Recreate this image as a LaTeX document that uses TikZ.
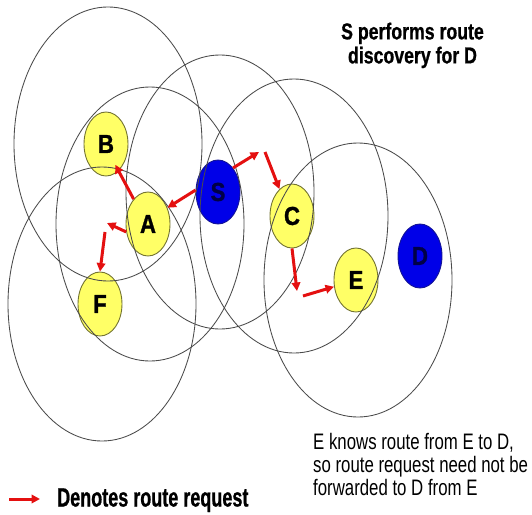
\documentclass[tikz,border=0pt]{standalone}
\usepackage{fontspec}
\setmainfont{Liberation Sans}
\newfontfamily\titlefont[FakeStretch=0.77,FakeBold=0.8]{Liberation Sans}
\newfontfamily\notefont[FakeStretch=0.75]{Liberation Sans}
\newfontfamily\legfont[FakeStretch=0.68,FakeBold=0.8]{Liberation Sans}
\newfontfamily\labfont[FakeStretch=0.85,FakeBold=1.2]{Liberation Sans}
\usetikzlibrary{arrows.meta,shapes.geometric}
\definecolor{nodeyellow}{RGB}{255,255,102}
\definecolor{yellowedge}{RGB}{115,115,50}
\definecolor{nodeblue}{RGB}{0,0,232}
\definecolor{blueedge}{RGB}{20,20,150}
\definecolor{bluetext}{RGB}{0,0,70}
\definecolor{rangegray}{RGB}{75,75,75}
\definecolor{reqred}{RGB}{228,16,16}
\begin{document}
\begin{tikzpicture}[x=1pt,y=-1pt,
  yellownode/.style={ellipse, draw=yellowedge, line width=0.9pt, fill=nodeyellow,
    minimum width=44pt, minimum height=64pt, inner sep=0pt,
    font=\labfont\bfseries\fontsize{26}{26}\selectfont},
  bluenode/.style={yellownode, fill=nodeblue, draw=blueedge, text=bluetext},
  rangecircle/.style={draw=rangegray, line width=0.85pt},
  req/.style={draw=reqred, line width=3pt, -{Triangle[length=8.5pt,width=8.5pt]}},
]
\useasboundingbox (0,0) rectangle (532,514);

% nodes
\node[yellownode] (B) at (106,144) {B};
\node[yellownode] (A) at (148,224) {A};
\node[bluenode]   (S) at (218,192) {S};
\node[yellownode] (C) at (292,216) {C};
\node[yellownode] (E) at (356,280) {E};
\node[bluenode]   (D) at (420,256) {D};
\node[yellownode] (F) at (100,304) {F};

% transmission ranges
\foreach \n in {B,A,S,C,E,F}
  \draw[rangecircle] ([xshift=2pt]\n.center) ellipse [x radius=94pt, y radius=137pt];

% route request arrows
\coordinate (p1) at (107,223);
\coordinate (p2) at (105,232);
\coordinate (p3) at (259,152);
\coordinate (p4) at (265,152);
\coordinate (p5) at (297,291);
\coordinate (p6) at (303,296);

\draw[req] (S.175) -- (A.40);
\draw[req, shorten >=-7pt] (A.120) -- (B.-65);
\draw[req] (A.200) -- (p1);
\draw[req] (p2) -- (F.north);
\draw[req] (S.58) -- (p3);
\draw[req] (p4) -- (C.115);
\draw[req] (C.south) -- (p5);
\draw[req] (p6) -- (E.197);

% texts
\node[anchor=north, align=center, inner sep=0pt,
  font=\titlefont\bfseries\fontsize{23}{24}\selectfont] (title) at (412.5,22.5)
  {S performs route\\discovery for D};
\node[anchor=north west, align=left, inner sep=0pt,
  font=\notefont\fontsize{22.4}{23}\selectfont] (note) at (313,432.6)
  {E knows route from E to D,\\so route request need not be\\forwarded to D from E};

% legend
\coordinate (l1) at (9,499);
\coordinate (l2) at (40,499);
\draw[req] (l1) -- (l2);
\node[anchor=base west, inner sep=0pt,
  font=\legfont\bfseries\fontsize{26.5}{30}\selectfont] (legend) at (57,506.5)
  {Denotes route request};
\end{tikzpicture}
\end{document}
